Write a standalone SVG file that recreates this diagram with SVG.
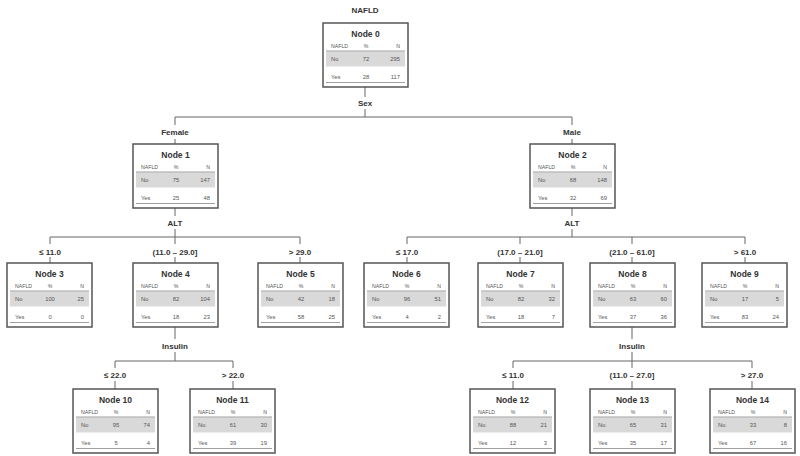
<svg xmlns="http://www.w3.org/2000/svg" width="800" height="456" viewBox="0 0 800 456">
<style>
text{font-family:"Liberation Sans",Arial,sans-serif;fill:#333}
.lbl{font-size:8px;font-weight:bold;text-anchor:middle}
.ttl{font-size:8.5px;font-weight:bold;text-anchor:middle}
.hd{font-size:5.2px;fill:#555}
.v{font-size:5.8px;fill:#555}
.c{text-anchor:middle}
.r{text-anchor:end}
.box{fill:#fff;stroke:#555;stroke-width:1.5}
.sh{fill:#d9d9d9}
.sep{stroke:#888;stroke-width:0.8}
.cn{stroke:#666;stroke-width:1;fill:none}
</style>
<defs>
<g id="frame">
<rect class="box" x="0" y="0" width="85" height="64"/>
<rect class="sh" x="3" y="28.5" width="79" height="15"/>
<line class="sep" x1="3" y1="28" x2="82" y2="28"/>
<line class="sep" x1="3" y1="59.5" x2="82" y2="59.5"/>
<text class="hd" x="8" y="24.5">NAFLD</text>
<text class="hd c" x="43" y="24.5">%</text>
<text class="hd r" x="77" y="24.5">N</text>
<text class="v" x="8" y="38">No</text>
<text class="v" x="8" y="55.5">Yes</text>
</g>
</defs>
<text class="lbl" x="365" y="13">NAFLD</text>
<g id="connectors">
<path class="cn" d="M365,87V97M365,109V117M175,117H572M175,117V125M175,139V144M572,117V125M572,139V144"/>
<path class="cn" d="M175,208V216M175,229V237M50,237H300M50,237V244M50,257V263M175,237V244M175,257V263M300,237V244M300,257V263"/>
<path class="cn" d="M572,208V216M572,229V237M407,237H745M407,237V244M407,257V263M520,237V244M520,257V263M632,237V244M632,257V263M745,237V244M745,257V263"/>
<path class="cn" d="M175,327V339M175,352V361M115,361H233M115,361V368M115,381V389M233,361V368M233,381V389"/>
<path class="cn" d="M632,327V339M632,352V361M513,361H752M513,361V368M513,381V389M632,361V368M632,381V389M752,361V368M752,381V389"/>
<text class="lbl" x="365" y="106">Sex</text>
<text class="lbl" x="175" y="135">Female</text>
<text class="lbl" x="572" y="135">Male</text>
<text class="lbl" x="175" y="226">ALT</text>
<text class="lbl" x="572" y="226">ALT</text>
<text class="lbl" x="50" y="255">≤ 11.0</text>
<text class="lbl" x="175" y="255">(11.0 – 29.0]</text>
<text class="lbl" x="300" y="255">&gt; 29.0</text>
<text class="lbl" x="407" y="255">≤ 17.0</text>
<text class="lbl" x="520" y="255">(17.0 – 21.0]</text>
<text class="lbl" x="632" y="255">(21.0 – 61.0]</text>
<text class="lbl" x="745" y="255">&gt; 61.0</text>
<text class="lbl" x="175" y="349">Insulin</text>
<text class="lbl" x="632" y="349">Insulin</text>
<text class="lbl" x="115" y="378">≤ 22.0</text>
<text class="lbl" x="233" y="378">&gt; 22.0</text>
<text class="lbl" x="513" y="378">≤ 11.0</text>
<text class="lbl" x="632" y="378">(11.0 – 27.0]</text>
<text class="lbl" x="752" y="378">&gt; 27.0</text>
</g>
<g id="node0" transform="translate(323,23)"><use href="#frame"/><text class="ttl" x="42.5" y="14">Node 0</text><text class="v c" x="43" y="38">72</text><text class="v r" x="77" y="38">295</text><text class="v c" x="43" y="55.5">28</text><text class="v r" x="77" y="55.5">117</text></g>
<g id="node1" transform="translate(133,144)"><use href="#frame"/><text class="ttl" x="42.5" y="14">Node 1</text><text class="v c" x="43" y="38">75</text><text class="v r" x="77" y="38">147</text><text class="v c" x="43" y="55.5">25</text><text class="v r" x="77" y="55.5">48</text></g>
<g id="node2" transform="translate(530,144)"><use href="#frame"/><text class="ttl" x="42.5" y="14">Node 2</text><text class="v c" x="43" y="38">68</text><text class="v r" x="77" y="38">148</text><text class="v c" x="43" y="55.5">32</text><text class="v r" x="77" y="55.5">69</text></g>
<g id="node3" transform="translate(7,263)"><use href="#frame"/><text class="ttl" x="42.5" y="14">Node 3</text><text class="v c" x="43" y="38">100</text><text class="v r" x="77" y="38">25</text><text class="v c" x="43" y="55.5">0</text><text class="v r" x="77" y="55.5">0</text></g>
<g id="node4" transform="translate(133,263)"><use href="#frame"/><text class="ttl" x="42.5" y="14">Node 4</text><text class="v c" x="43" y="38">82</text><text class="v r" x="77" y="38">104</text><text class="v c" x="43" y="55.5">18</text><text class="v r" x="77" y="55.5">23</text></g>
<g id="node5" transform="translate(258,263)"><use href="#frame"/><text class="ttl" x="42.5" y="14">Node 5</text><text class="v c" x="43" y="38">42</text><text class="v r" x="77" y="38">18</text><text class="v c" x="43" y="55.5">58</text><text class="v r" x="77" y="55.5">25</text></g>
<g id="node6" transform="translate(364,263)"><use href="#frame"/><text class="ttl" x="42.5" y="14">Node 6</text><text class="v c" x="43" y="38">96</text><text class="v r" x="77" y="38">51</text><text class="v c" x="43" y="55.5">4</text><text class="v r" x="77" y="55.5">2</text></g>
<g id="node7" transform="translate(478,263)"><use href="#frame"/><text class="ttl" x="42.5" y="14">Node 7</text><text class="v c" x="43" y="38">82</text><text class="v r" x="77" y="38">32</text><text class="v c" x="43" y="55.5">18</text><text class="v r" x="77" y="55.5">7</text></g>
<g id="node8" transform="translate(590,263)"><use href="#frame"/><text class="ttl" x="42.5" y="14">Node 8</text><text class="v c" x="43" y="38">63</text><text class="v r" x="77" y="38">60</text><text class="v c" x="43" y="55.5">37</text><text class="v r" x="77" y="55.5">36</text></g>
<g id="node9" transform="translate(702,263)"><use href="#frame"/><text class="ttl" x="42.5" y="14">Node 9</text><text class="v c" x="43" y="38">17</text><text class="v r" x="77" y="38">5</text><text class="v c" x="43" y="55.5">83</text><text class="v r" x="77" y="55.5">24</text></g>
<g id="node10" transform="translate(73,389)"><use href="#frame"/><text class="ttl" x="42.5" y="14">Node 10</text><text class="v c" x="43" y="38">95</text><text class="v r" x="77" y="38">74</text><text class="v c" x="43" y="55.5">5</text><text class="v r" x="77" y="55.5">4</text></g>
<g id="node11" transform="translate(190,389)"><use href="#frame"/><text class="ttl" x="42.5" y="14">Node 11</text><text class="v c" x="43" y="38">61</text><text class="v r" x="77" y="38">30</text><text class="v c" x="43" y="55.5">39</text><text class="v r" x="77" y="55.5">19</text></g>
<g id="node12" transform="translate(470,389)"><use href="#frame"/><text class="ttl" x="42.5" y="14">Node 12</text><text class="v c" x="43" y="38">88</text><text class="v r" x="77" y="38">21</text><text class="v c" x="43" y="55.5">12</text><text class="v r" x="77" y="55.5">3</text></g>
<g id="node13" transform="translate(590,389)"><use href="#frame"/><text class="ttl" x="42.5" y="14">Node 13</text><text class="v c" x="43" y="38">65</text><text class="v r" x="77" y="38">31</text><text class="v c" x="43" y="55.5">35</text><text class="v r" x="77" y="55.5">17</text></g>
<g id="node14" transform="translate(710,389)"><use href="#frame"/><text class="ttl" x="42.5" y="14">Node 14</text><text class="v c" x="43" y="38">33</text><text class="v r" x="77" y="38">8</text><text class="v c" x="43" y="55.5">67</text><text class="v r" x="77" y="55.5">16</text></g>
</svg>
